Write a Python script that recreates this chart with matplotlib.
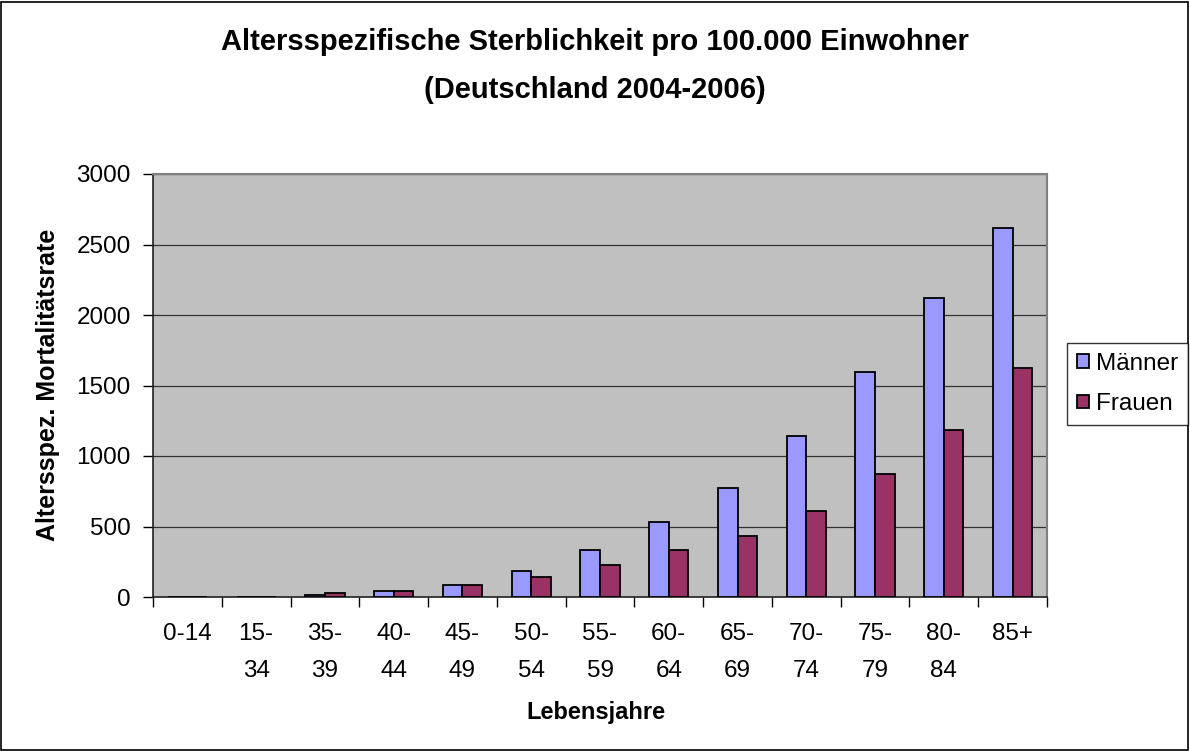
import matplotlib.pyplot as plt
import matplotlib.patches as mpatches
import numpy as np

plt.rcParams["font.family"] = ["Liberation Sans", "DejaVu Sans"]

altersgruppen = ["0-14", "15-\n34", "35-\n39", "40-\n44", "45-\n49", "50-\n54", "55-\n59",
                 "60-\n64", "65-\n69", "70-\n74", "75-\n79", "80-\n84", "85+"]
maenner = [2, 3, 15, 45, 85, 185, 330, 530, 770, 1140, 1595, 2120, 2615]
frauen = [1, 2, 30, 45, 85, 140, 225, 330, 430, 610, 870, 1185, 1625]

fig = plt.figure(figsize=(11.9, 7.51), dpi=100)
ax = fig.add_axes([153/1190, 1 - 597/751, 894/1190, 423/751])
ax.set_facecolor('#C0C0C0')

X_axis = np.arange(len(altersgruppen))
w = 1 / 3.5
ax.bar(X_axis - w/2, maenner, w, color='#9999FF', edgecolor='black', linewidth=1.3, label='Männer', zorder=3)
ax.bar(X_axis + w/2, frauen, w, color='#993366', edgecolor='black', linewidth=1.3, label='Frauen', zorder=3)

ax.set_xlim(-0.5, len(altersgruppen) - 0.5)
ax.set_ylim(0, 3000)
ax.set_yticks(range(0, 3001, 500))
ax.tick_params(axis='y', labelsize=17.5, length=7, width=1, direction='out', pad=9)
ax.grid(axis='y', color='#333333', linewidth=0.9, zorder=1)

# ticks between categories, labels centred
ax.set_xticks(np.arange(-0.5, len(altersgruppen)), [''] * (len(altersgruppen) + 1))
ax.set_xticks(X_axis, altersgruppen, minor=True, fontsize=17.5, linespacing=1.85)
ax.tick_params(axis='x', which='major', length=7, width=1, direction='out')
ax.tick_params(axis='x', which='minor', length=0, pad=19)

for s in ['left', 'bottom']:
    ax.spines[s].set_color('#222222')
    ax.spines[s].set_linewidth(1.2)
for s in ['top', 'right']:
    ax.spines[s].set_color('#808080')
    ax.spines[s].set_linewidth(1.5)

fig.text(0.5, 1 - 42/751, 'Altersspezifische Sterblichkeit pro 100.000 Einwohner',
         ha='center', va='center', fontsize=21, fontweight='bold')
fig.text(0.5, 1 - 90/751, '(Deutschland 2004-2006)',
         ha='center', va='center', fontsize=21, fontweight='bold')
fig.text(48/1190, 1 - 385/751, 'Altersspez. Mortalitätsrate', rotation=90,
         ha='center', va='center', fontsize=18, fontweight='bold')
fig.text(596/1190, 1 - 712/751, 'Lebensjahre', ha='center', va='center',
         fontsize=17, fontweight='bold')

leg = fig.legend(loc='center left', bbox_to_anchor=(1067/1190, 1 - 384/751), fontsize=17.5,
                 frameon=True, fancybox=False, edgecolor='black', handlelength=0.5,
                 handleheight=0.5, handletextpad=0.3, borderpad=0.4, labelspacing=0.75,
                 borderaxespad=0)
leg.get_frame().set_linewidth(1.0)

fig.patches.append(mpatches.Rectangle((0.001, 0.001), 0.997, 0.997, transform=fig.transFigure,
                                      fill=False, edgecolor='black', linewidth=1.2))

plt.savefig('out.png', dpi=100)
